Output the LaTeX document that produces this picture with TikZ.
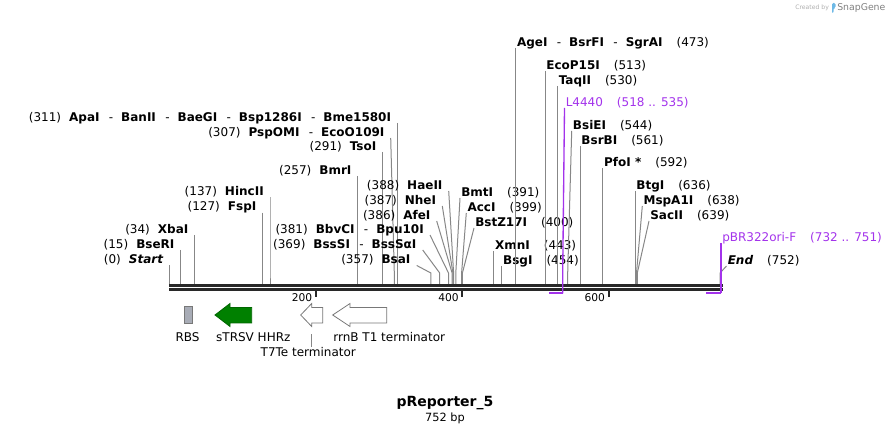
\documentclass[tikz,border=0pt]{standalone}
\usepackage{fontspec}
\setmainfont{DejaVu Sans}
\usetikzlibrary{positioning}

\definecolor{Backbone}{RGB}{40,40,40}
\definecolor{CutGray}{RGB}{135,135,135}
\definecolor{Primer}{RGB}{163,51,235}
\definecolor{RiboGreen}{RGB}{0,128,0}
\definecolor{RbsGray}{RGB}{168,172,182}
\definecolor{OutlineGray}{RGB}{120,120,120}
\definecolor{LogoGray}{RGB}{175,175,175}
\definecolor{LogoBlue}{RGB}{110,185,230}

\newcommand{\numgap}{\hspace{6pt}}
\newcommand{\dsep}{\hspace{7pt}-\hspace{6pt}}
\newcommand{\rgap}{\hspace{10.5pt}}

\tikzset{
  sitefont/.style={font=\fontsize{9}{10}\selectfont},
  siteL/.style={sitefont, anchor=south east, inner xsep=4.5pt, inner ysep=0pt, text height=6.6pt, text depth=1.2pt},
  siteR/.style={sitefont, anchor=south west, inner xsep=0.75pt, inner ysep=0pt, text height=6.6pt, text depth=1.2pt},
  cutline/.style={CutGray, line width=0.75pt},
  primerline/.style={Primer, line width=1pt},
  feature/.style={line width=0.6pt, line join=miter},
  featlbl/.style={font=\fontsize{9}{10}\selectfont, inner sep=0pt},
}

\begin{document}
\begin{tikzpicture}[x=0.75pt, y=-0.75pt]
\useasboundingbox (0,0) rectangle (892,434);

% cut sites labelled on the left
\foreach \n/\sx/\sy/\cx/\txt in {
  apa/397.3/123/397.3/{(311)\numgap\textbf{ApaI}\dsep\textbf{BanII}\dsep\textbf{BaeGI}\dsep\textbf{Bsp1286I}\dsep\textbf{Bme1580I}},
  psp/390.7/138/394.3/{(307)\numgap\textbf{PspOMI}\dsep\textbf{EcoO109I}},
  tso/382.6/152/382.6/{(291)\numgap\textbf{TsoI}},
  bmr/357.7/176/357.7/{(257)\numgap\textbf{BmrI}},
  hinc/270.0/197.5/270.0/{(137)\numgap\textbf{HincII}},
  fsp/262.6/212.7/262.6/{(127)\numgap\textbf{FspI}},
  xba/194.6/235/194.6/{(34)\numgap\textbf{XbaI}},
  bser/180.7/250/180.7/{(15)\numgap\textbf{BseRI}},
  start/169.7/265.5/169.7/{(0)\numgap\textbf{\textit{Start}}},
  hae/448.7/191/453.6/{(388)\numgap\textbf{HaeII}},
  nhe/442.3/206/452.9/{(387)\numgap\textbf{NheI}},
  afe/436.7/221/452.1/{(386)\numgap\textbf{AfeI}},
  bpu/430/235/448.5/{(381)\numgap\textbf{BbvCI}\dsep\textbf{Bpu10I}},
  bss/422.7/250/439.7/{(369)\numgap\textbf{BssSI}\dsep\textbf{BssSαI}},
  bsa/416.7/265.5/430.9/{(357)\numgap\textbf{BsaI}}}{
  \node[siteL] (\n) at (\sx,\sy) {\txt};
  \coordinate (kink\n) at (\cx,273);
  \coordinate (cut\n) at (\cx,284.5);
  \draw[cutline] (\n.south east) -- (kink\n) -- (cut\n);
}

% cut sites labelled on the right
\foreach \n/\sx/\sy/\cx/\txt in {
  bmt/460/198/455.8/{\textbf{BmtI}\rgap(391)},
  acc/466.3/213/461.6/{\textbf{AccI}\rgap(399)},
  bstz/474/228/462.4/{\textbf{BstZ17I}\rgap(400)},
  xmn/493.8/251/493.8/{\textbf{XmnI}\rgap(443)},
  bsg/501.9/266/501.9/{\textbf{BsgI}\rgap(454)},
  age/515.8/48/515.8/{\textbf{AgeI}\dsep\textbf{BsrFI}\dsep\textbf{SgrAI}\rgap(473)},
  eco/545.1/71/545.1/{\textbf{EcoP15I}\rgap(513)},
  taq/557.5/86/557.5/{\textbf{TaqII}\rgap(530)},
  bsie/571.7/131/567.7/{\textbf{BsiEI}\rgap(544)},
  bsrb/580.2/146/580.2/{\textbf{BsrBI}\rgap(561)},
  pfo/602.9/168/602.9/{\textbf{PfoI *}\rgap(592)},
  btg/635.1/191/635.1/{\textbf{BtgI}\rgap(636)},
  msp/642.3/206/636.5/{\textbf{MspA1I}\rgap(638)},
  sac/649/221/637.3/{\textbf{SacII}\rgap(639)},
  end/726.5/266/720/{\textbf{\textit{End}}\rgap(752)}}{
  \node[siteR] (\n) at (\sx,\sy) {\txt};
  \coordinate (kink\n) at (\cx,273);
  \coordinate (cut\n) at (\cx,284.5);
  \draw[cutline] (\n.south west) -- (kink\n) -- (cut\n);
}

% backbone and ruler
\draw[Backbone, line width=2pt] (169.3,285.7) -- (722.5,285.7);
\draw[Backbone, line width=2pt] (169.3,289.6) -- (722.5,289.6);
\foreach \t/\x in {200/316.0, 400/462.4, 600/608.7}{
  \draw[Backbone, line width=1.5pt] (\x,290.7) -- (\x,297.5);
  \node[font=\fontsize{8}{9}\selectfont, anchor=east, inner sep=0pt] (tick\t) at ({\x-3.5},297.5) {\t};
}

% primers
\node[siteR, Primer] (l4440) at (564.5,108) {L4440\rgap(518 .. 535)};
\coordinate (kinkl4440) at (562.7,273);
\coordinate (hookl4440) at (562.7,293.5);
\draw[primerline] (l4440.south west) -- (kinkl4440) -- (hookl4440);
\draw[Primer, line width=1.5pt] (hookl4440) -- ++(-13.4,0);
\node[siteR, Primer] (pbr) at (721,243) {pBR322ori-F\rgap(732 .. 751)};
\coordinate (hookpbr) at (721,293.5);
\draw[primerline] (pbr.south west) -- (hookpbr);
\draw[Primer, line width=1.5pt] (hookpbr) -- ++(-15,0);

% features
\filldraw[fill=RbsGray, draw=OutlineGray, line width=0.6pt] (184.3,306.7) rectangle (192.7,323.3);
\filldraw[fill=RiboGreen, draw=RiboGreen!80!black, feature] (215,315) -- (230,303.5) -- (230,307.5) -- (251.7,307.5) -- (251.7,323) -- (230,323) -- (230,326.5) -- cycle;
\filldraw[fill=white, draw=OutlineGray, feature] (300.7,315) -- (311.7,303.5) -- (311.7,307.5) -- (322.7,307.5) -- (322.7,323) -- (311.7,323) -- (311.7,326.5) -- cycle;
\filldraw[fill=white, draw=OutlineGray, feature] (332.7,315) -- (350,303.5) -- (350,307.5) -- (386.7,307.5) -- (386.7,323) -- (350,323) -- (350,326.5) -- cycle;

\node[featlbl] (rbslbl) at (187.5,337) {RBS};
\node[featlbl] (hhrzlbl) at (253.3,337) {sTRSV HHRz};
\node[featlbl] (rrnblbl) at (389.2,337) {rrnB T1 terminator};
\node[featlbl] (t7lbl) at (308.3,352) {T7Te terminator};
\coordinate (t7foot) at (311.7,334.5);
\draw[CutGray, line width=0.6pt] (t7foot) -- (t7foot |- t7lbl.north);

% title
\node[font=\bfseries\fontsize{10.5}{12}\selectfont] (title) at (445,403) {pReporter\_5};
\node[font=\fontsize{8.5}{9}\selectfont] (length) at (445,418) {752 bp};

% logo
\node[LogoGray, font=\fontsize{4.6}{5}\selectfont, anchor=west, inner sep=0pt] (madeby) at (795,8) {Created by};
\fill[LogoBlue, rounded corners=1pt] (832,13) -- (832,3) -- (835.5,3) -- (835.5,8) -- (833.5,8) -- (833.5,13) -- cycle;
\node[gray, font=\fontsize{7}{8}\selectfont, anchor=west, inner sep=0pt] (brand) at (837,8) {SnapGene};
\end{tikzpicture}
\end{document}
